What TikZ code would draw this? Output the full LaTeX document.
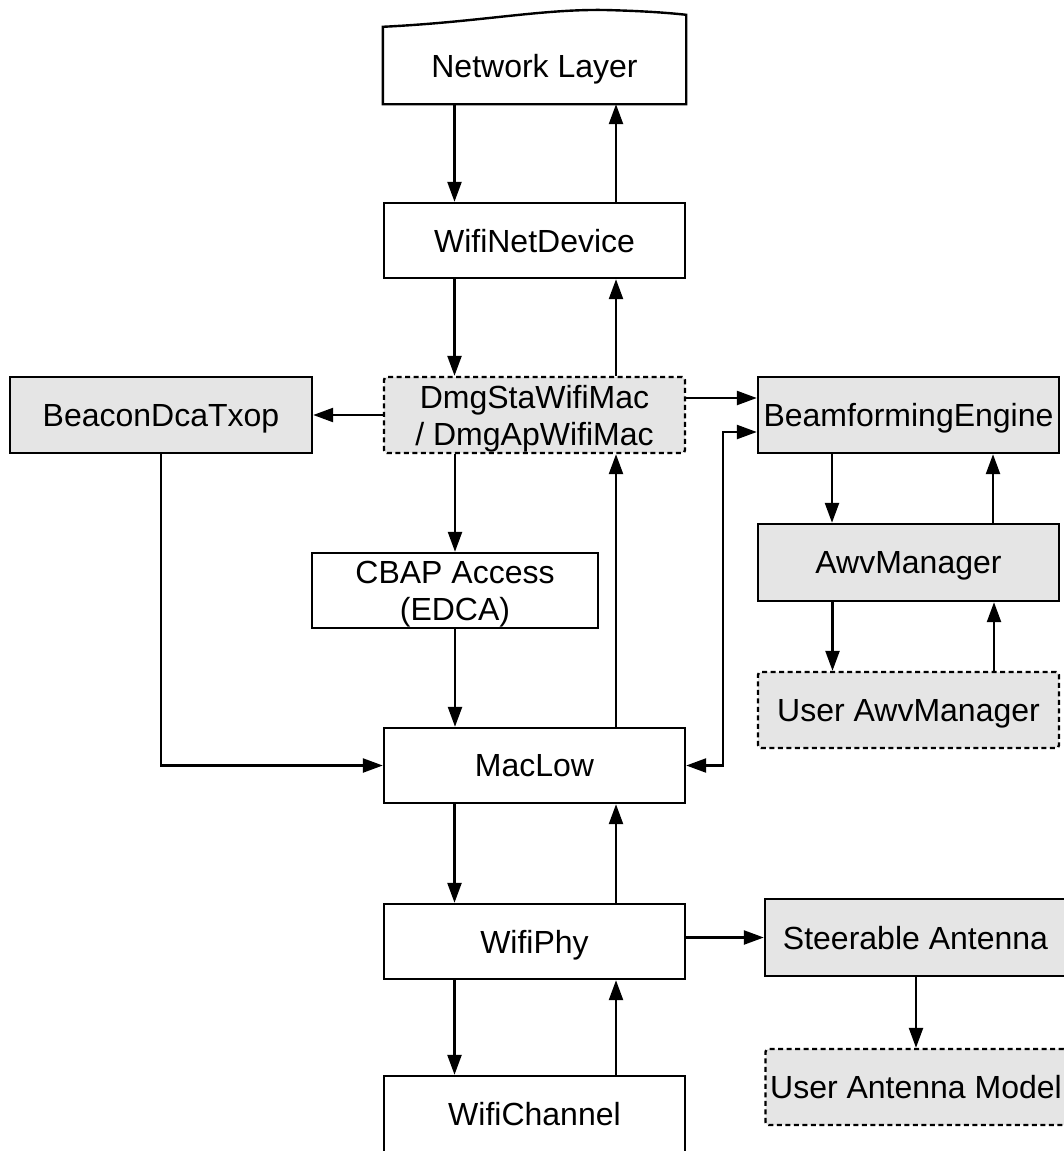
\documentclass[tikz,border=0pt]{standalone}
\usepackage{fontspec}
\setmainfont{Liberation Sans}
\usetikzlibrary{arrows.meta}
\begin{document}
\begin{tikzpicture}[x=1pt,y=-1pt,
  box/.style={rectangle, draw=black, line width=2.4pt, minimum width=301pt,
    minimum height=75pt, inner sep=0pt, text depth=0pt,
    font=\fontsize{32}{37}\selectfont, align=center},
  shaded/.style={box, fill=gray!20},
  userbox/.style={shaded, dash pattern=on 5pt off 3.5pt, rounded corners=3pt},
  arr/.style={line width=2.4pt, -{Triangle[length=20pt,width=14pt]}},
  arrboth/.style={line width=2.4pt, {Triangle[length=20pt,width=14pt]}-{Triangle[length=20pt,width=14pt]}}
]
\useasboundingbox (0,0) rectangle (1064,1151);
\clip (0,0) rectangle (1064,1151);

% network layer with a wavy top edge
\node[box, draw=none] (nl) at (534.5,65.5) {Network Layer};
\draw[line width=2.4pt] (nl.north west) .. controls (480,22) and (540,9) .. (605,10)
  .. controls (645,11) and (670,13) .. ([yshift=12pt]nl.north east)
  -- (nl.south east) -- (nl.south west) -- cycle;

% main stack
\node[box] (wnd) at (534.5,240.5) {WifiNetDevice};
\node[userbox, minimum height=76pt] (mac) at (534.5,415) {DmgStaWifiMac\\/ DmgApWifiMac};
\node[box, minimum width=286pt] (cbap) at (455,590.5) {CBAP Access\\(EDCA)};
\node[box] (low) at (534.5,765.5) {MacLow};
\node[box] (phy) at (534.5,941.5) {WifiPhy};
\node[box, minimum height=76pt] (ch) at (534.5,1114) {WifiChannel};

% side blocks
\node[shaded, minimum width=302pt, minimum height=76pt] (bdt) at (161,415) {BeaconDcaTxop};
\node[shaded, minimum height=76pt] (bfe) at (908.5,415) {BeamformingEngine};
\node[shaded, minimum height=77pt] (awv) at (908.5,562.5) {AwvManager};
\node[userbox, minimum height=76pt] (uawv) at (908.5,710) {User AwvManager};
\node[shaded, minimum height=77pt] (ant) at (915.5,937.5) {Steerable Antenna};
\node[userbox, minimum height=76pt] (uant) at (916,1087) {User Antenna Model};

% vertical links of the stack
\draw[arr] ([xshift=-80pt]nl.south) -- ([xshift=-80pt]wnd.north);
\draw[arr] ([xshift=81.5pt]wnd.north) -- ([xshift=81.5pt]nl.south);
\draw[arr] ([xshift=-80pt]wnd.south) -- ([xshift=-80pt]mac.north);
\draw[arr] ([xshift=81.5pt]mac.north) -- ([xshift=81.5pt]wnd.south);
\draw[arr] (mac.south -| cbap.north) -- (cbap.north);
\draw[arr] (cbap.south) -- (low.north -| cbap.south);
\draw[arr] ([xshift=81.5pt]low.north) -- ([xshift=81.5pt]mac.south);
\draw[arr] ([xshift=-80pt]low.south) -- ([xshift=-80pt]phy.north);
\draw[arr] ([xshift=81.5pt]phy.north) -- ([xshift=81.5pt]low.south);
\draw[arr] ([xshift=-80pt]phy.south) -- ([xshift=-80pt]ch.north);
\draw[arr] ([xshift=81.5pt]ch.north) -- ([xshift=81.5pt]phy.south);

% links to the side blocks
\draw[arr] (mac.west) -- (bdt.east);
\draw[arr] (bdt.south) |- (low.west);
\draw[arr] ([yshift=17pt]mac.east) -- ([yshift=17pt]bfe.west);
\draw[arrboth] (low.east) -- ++(37,0) |- ([yshift=-17pt]bfe.west);
\draw[arr] ([xshift=-76.5pt]bfe.south) -- ([xshift=-76.5pt]awv.north);
\draw[arr] ([xshift=84.5pt]awv.north) -- ([xshift=84.5pt]bfe.south);
\draw[arr] ([xshift=-76pt]awv.south) -- ([xshift=-76pt]uawv.north);
\draw[arr] ([xshift=85.5pt]uawv.north) -- ([xshift=85.5pt]awv.south);
\draw[arr] (phy.east |- ant.west) -- (ant.west);
\draw[arr] (ant.south -| uant.north) -- (uant.north);
\end{tikzpicture}
\end{document}
